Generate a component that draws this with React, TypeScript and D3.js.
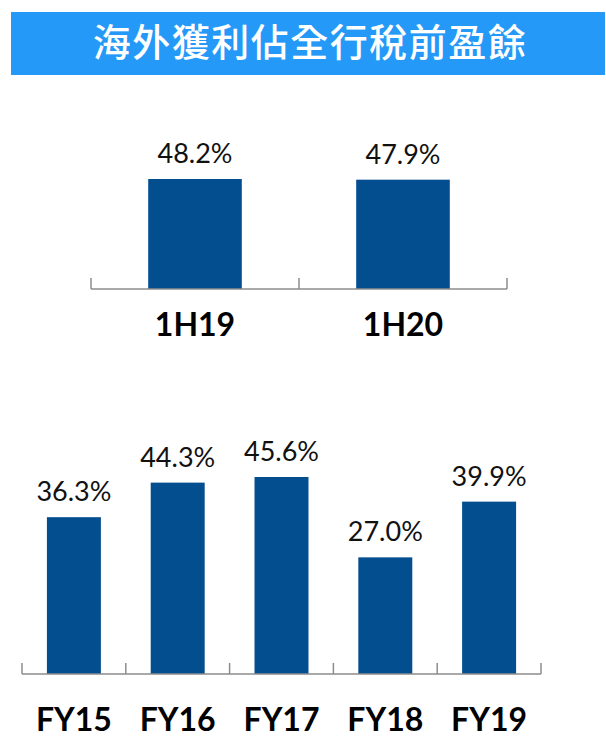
import React from "react";
import * as d3 from "d3";

const title = "海外獲利佔全行稅前盈餘";
const halfCategories = ["1H19", "1H20"];
const halfValues = [48.2, 47.9];
const yearCategories = ["FY15", "FY16", "FY17", "FY18", "FY19"];
const yearValues = [36.3, 44.3, 45.6, 27.0, 39.9];

const W = 606;
const H = 738;
const BAR = "#034E8F";
const AXIS = "#8C8C8C";
const LABEL_FONT = "Lato, 'Open Sans', sans-serif";

type PanelProps = {
  cats: string[];
  vals: number[];
  x0: number;
  x1: number;
  axisY: number;
  pxPerUnit: number;
  padding: number;
  catBaseline: number;
};

function Panel({ cats, vals, x0, x1, axisY, pxPerUnit, padding, catBaseline }: PanelProps) {
  const x = d3.scaleBand<string>().domain(cats).range([x0, x1]).paddingInner(padding).paddingOuter(padding / 2);
  const y = d3.scaleLinear().domain([0, 100]).range([axisY, axisY - 100 * pxPerUnit]);
  const ticks = d3.range(cats.length + 1).map((i) => x0 + i * ((x1 - x0) / cats.length));
  return (
    <g>
      {cats.map((c, i) => (
        <rect key={c} x={x(c)} y={y(vals[i])} width={x.bandwidth()} height={axisY - y(vals[i])} fill={BAR} />
      ))}
      <line x1={x0} x2={x1} y1={axisY} y2={axisY} stroke={AXIS} strokeWidth={1.5} />
      {ticks.map((t, i) => (
        <line key={i} x1={t} x2={t} y1={axisY} y2={axisY - 11} stroke={AXIS} strokeWidth={1.5} />
      ))}
      {cats.map((c, i) => (
        <text
          key={"v" + c}
          x={(x(c) as number) + x.bandwidth() / 2}
          y={y(vals[i]) - 16}
          textAnchor="middle"
          fontFamily={LABEL_FONT}
          fontSize={27}
          fill="#111"
        >
          {vals[i].toFixed(1) + "%"}
        </text>
      ))}
      {cats.map((c) => (
        <text
          key={"c" + c}
          x={(x(c) as number) + x.bandwidth() / 2}
          y={catBaseline}
          textAnchor="middle"
          fontFamily={LABEL_FONT}
          fontWeight="bold"
          fontSize={32}
          fill="#000"
        >
          {c}
        </text>
      ))}
    </g>
  );
}

export default function App() {
  return (
    <svg
      width={W}
      height={H}
      viewBox={`0 0 ${W} ${H}`}
      style={{ position: "absolute", left: 0, top: 0, background: "#fff" }}
    >
      <rect x={11} y={12} width={594} height={63} fill="#2499F8" />
      <text
        x={310}
        y={56}
        textAnchor="middle"
        fontFamily="'Noto Sans CJK TC', 'Noto Sans CJK SC', sans-serif"
        fontWeight={500}
        fontSize={38}
        letterSpacing={1.5}
        fill="#fff"
      >
        {title}
      </text>
      <Panel
        cats={halfCategories}
        vals={halfValues}
        x0={91}
        x1={507}
        axisY={289}
        pxPerUnit={110 / 48.2}
        padding={0.55}
        catBaseline={336}
      />
      <Panel
        cats={yearCategories}
        vals={yearValues}
        x0={22}
        x1={541}
        axisY={674}
        pxPerUnit={4.32}
        padding={0.48}
        catBaseline={731}
      />
    </svg>
  );
}
